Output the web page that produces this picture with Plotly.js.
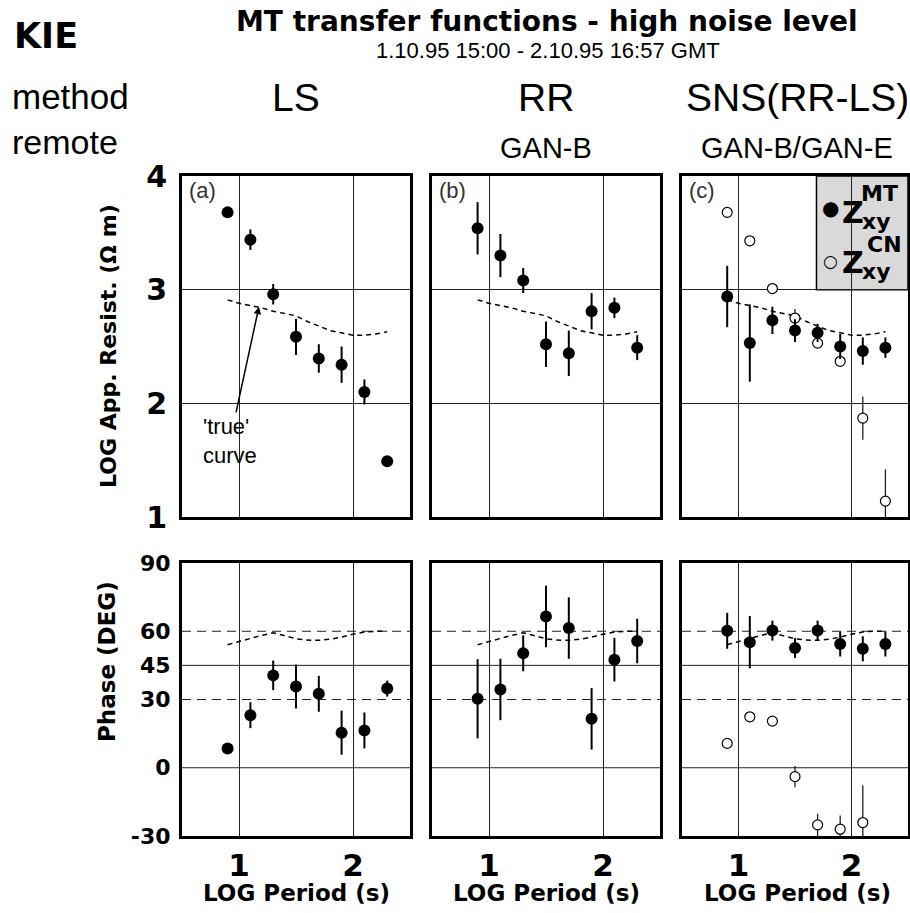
<!DOCTYPE html>
<html>
<head>
<meta charset="utf-8">
<script src="https://cdn.plot.ly/plotly-3.0.1.min.js"></script>
<style>html,body{margin:0;padding:0;background:#fff;}#chart{width:910px;height:913px;}</style>
</head>
<body>
<div id="chart"></div>
<script>
// ---- data ----
const logPeriod = [0.9, 1.1, 1.3, 1.5, 1.7, 1.9, 2.1, 2.3];

const rhoLS      = [3.68, 3.44, 2.96, 2.585, 2.395, 2.34, 2.10, 1.49];
const rhoLSerr   = [0, 0.09, 0.09, 0.16, 0.125, 0.16, 0.11, 0];
const rhoRR      = [3.54, 3.30, 3.08, 2.52, 2.44, 2.81, 2.84, 2.49];
const rhoRRerr   = [0.23, 0.19, 0.11, 0.20, 0.20, 0.16, 0.09, 0.11];
const rhoSnsMT   = [2.94, 2.53, 2.73, 2.64, 2.62, 2.50, 2.46, 2.49];
const rhoSnsMTerr= [0.27, 0.34, 0.12, 0.10, 0.08, 0.11, 0.12, 0.09];
const rhoSnsCN   = [3.68, 3.43, 3.01, 2.75, 2.53, 2.37, 1.87, 1.14];
const rhoSnsCNerr= [0, 0, 0, 0.08, 0.04, 0.04, 0.19, 0.28];

const phLS       = [8.5, 23.1, 40.6, 35.7, 32.5, 15.4, 16.4, 34.8];
const phLSerr    = [0, 5.7, 6.5, 9.7, 7.9, 9.7, 7.9, 3.5];
const phRR       = [30.3, 34.4, 50.3, 66.5, 61.4, 21.5, 47.5, 55.7];
const phRRerr    = [17.4, 13.5, 7.9, 13.5, 13.5, 13.5, 9.6, 9.8];
const phSnsMT    = [60.2, 55.2, 60.3, 52.6, 60.3, 54.4, 52.3, 54.4];
const phSnsMTerr = [7.9, 11.5, 4.4, 4.4, 4.4, 5.5, 5.5, 5.5];
const phSnsCN    = [10.7, 22.4, 20.5, -3.9, -25.1, -27.0, -24.1, null];
const phSnsCNerr = [0, 0, 0, 4.7, 4.9, 6.0, 16.4, 0];

const truePeriod = [0.9, 1.0, 1.1, 1.2, 1.3, 1.4, 1.5, 1.6, 1.7, 1.8, 1.9, 2.0, 2.1, 2.2, 2.3];
const trueRho    = [2.91, 2.88, 2.86, 2.84, 2.81, 2.79, 2.77, 2.72, 2.68, 2.64, 2.62, 2.60, 2.60, 2.61, 2.63];
const truePhase  = [54.1, 55.5, 56.8, 58.2, 59.3, 58.0, 56.7, 56.1, 56.0, 56.5, 57.4, 58.7, 59.7, 60.0, 60.0];

const rhoTicks   = [1, 2, 3, 4];
const phaseTicks = [-30, 0, 30, 45, 60, 90];
const periodTicks = [1, 2];
const methods = ['LS', 'RR', 'SNS(RR-LS)'];
const remotes = ['', 'GAN-B', 'GAN-B/GAN-E'];
const panelLabels = ['(a)', '(b)', '(c)'];

// ---- layout helpers ----
const W = 910, H = 913;
const FONT = 'Liberation Sans, Arial, sans-serif';
const BFONT = 'DejaVu Sans, Liberation Sans, sans-serif';
const colPx = [[182, 410], [432, 660], [682, 908]];
const topPx = [176, 517], botPx = [563, 836];
const px2x = p => p / W;
const py2y = p => 1 - p / H;

const traces = [];
function filled(x, y, e, xa, ya) {
  traces.push({x: x, y: y, xaxis: xa, yaxis: ya, type: 'scatter', mode: 'markers',
    marker: {color: 'black', size: 12},
    error_y: {type: 'data', array: e, visible: true, width: 0, thickness: 2, color: 'black'},
    showlegend: false, hoverinfo: 'skip'});
}
function open(x, y, e, xa, ya) {
  traces.push({x: x, y: y, xaxis: xa, yaxis: ya, type: 'scatter', mode: 'markers',
    marker: {color: 'white', size: 10, line: {color: 'black', width: 1.2}},
    error_y: {type: 'data', array: e, visible: true, width: 0, thickness: 1.3, color: '#222'},
    showlegend: false, hoverinfo: 'skip'});
}
function trueCurve(y, xa, ya) {
  traces.push({x: truePeriod, y: y, xaxis: xa, yaxis: ya, type: 'scatter', mode: 'lines',
    line: {color: 'black', width: 1.5, dash: '5px,4px'}, showlegend: false, hoverinfo: 'skip'});
}

// top row: resistivity (x,y / x2,y2 / x3,y3); bottom: phase (x4..x6)
trueCurve(trueRho, 'x', 'y');   filled(logPeriod, rhoLS, rhoLSerr, 'x', 'y');
trueCurve(trueRho, 'x2', 'y2'); filled(logPeriod, rhoRR, rhoRRerr, 'x2', 'y2');
trueCurve(trueRho, 'x3', 'y3'); open(logPeriod, rhoSnsCN, rhoSnsCNerr, 'x3', 'y3'); filled(logPeriod, rhoSnsMT, rhoSnsMTerr, 'x3', 'y3');
trueCurve(truePhase, 'x4', 'y4'); filled(logPeriod, phLS, phLSerr, 'x4', 'y4');
trueCurve(truePhase, 'x5', 'y5'); filled(logPeriod, phRR, phRRerr, 'x5', 'y5');
trueCurve(truePhase, 'x6', 'y6'); open(logPeriod, phSnsCN, phSnsCNerr, 'x6', 'y6'); filled(logPeriod, phSnsMT, phSnsMTerr, 'x6', 'y6');

const layout = {width: W, height: H, margin: {l: 0, r: 0, t: 0, b: 0},
  paper_bgcolor: 'white', plot_bgcolor: 'white', showlegend: false,
  font: {family: FONT, color: 'black'}, shapes: [], annotations: []};

function xaxisDef(col, bottom, anchor) {
  return {domain: [px2x(colPx[col][0]), px2x(colPx[col][1])], anchor: anchor, range: [0.5, 2.5],
    tickvals: periodTicks, ticktext: periodTicks.map(String), showticklabels: bottom,
    tickfont: {size: 31, weight: 'bold', family: BFONT}, ticks: '',
    showgrid: true, gridcolor: '#222', gridwidth: 1,
    showline: true, mirror: true, linecolor: 'black', linewidth: 3, zeroline: false, fixedrange: true};
}
function yaxisDef(col, isTop, anchor) {
  const dom = isTop ? topPx : botPx;
  return {domain: [py2y(dom[1]), py2y(dom[0])], anchor: anchor,
    range: isTop ? [1, 4] : [-30, 90], tickvals: isTop ? rhoTicks : phaseTicks,
    ticktext: (isTop ? rhoTicks : phaseTicks).map(String), showticklabels: col === 0,
    tickfont: {size: isTop ? 30 : 22, weight: 'bold', family: BFONT},
    ticks: col === 0 ? 'outside' : '', ticklen: isTop ? 6 : 4, tickcolor: 'rgba(0,0,0,0)',
    showgrid: isTop, gridcolor: '#222', gridwidth: 1,
    showline: true, mirror: true, linecolor: 'black', linewidth: 3, zeroline: false, fixedrange: true};
}
const axNames = ['', '2', '3', '4', '5', '6'];
for (let i = 0; i < 6; i++) {
  const col = i % 3, isTop = i < 3;
  layout['xaxis' + axNames[i]] = xaxisDef(col, !isTop, 'y' + axNames[i]);
  layout['yaxis' + axNames[i]] = yaxisDef(col, isTop, 'x' + axNames[i]);
}

// phase reference lines: solid at 0 and 45, dashed at 30 and 60
const phaseLines = [[0, 'solid'], [45, 'solid'], [30, '9px,6px'], [60, '9px,6px']];
for (let c = 0; c < 3; c++) {
  const n = axNames[3 + c];
  phaseLines.forEach(([v, d]) => layout.shapes.push({type: 'line', layer: 'below',
    xref: 'x' + n + ' domain', x0: 0, x1: 1, yref: 'y' + n, y0: v, y1: v,
    line: {color: '#222', width: 1, dash: d}}));
}
// legend box in panel (c)
layout.shapes.push({type: 'rect', layer: 'below', xref: 'x3', yref: 'y3', x0: 1.69, x1: 2.5, y0: 3, y1: 4,
  fillcolor: '#d9d9d9', line: {color: 'black', width: 1.5}});

const A = layout.annotations;
function txt(text, x, y, size, bold, opts) {
  A.push(Object.assign({text: text, x: px2x(x), y: py2y(y), xref: 'paper', yref: 'paper',
    showarrow: false, font: {size: size, family: bold ? BFONT : FONT, weight: bold ? 'bold' : 'normal', color: 'black'},
    xanchor: 'center', yanchor: 'middle'}, opts || {}));
}
txt('KIE', 12, 36, 35, true, {xanchor: 'left'});
txt('MT transfer functions - high noise level', 547, 21, 28, true);
txt('1.10.95 15:00 - 2.10.95 16:57 GMT', 548, 51, 22, false);
txt('method', 10, 96, 35, false, {xanchor: 'left'});
txt('remote', 10, 142, 34, false, {xanchor: 'left'});
const colCenters = [296, 546, 797];
methods.forEach((m, i) => txt(m, colCenters[i], 98, 39, false));
remotes.forEach((r, i) => { if (r) txt(r, colCenters[i], 148, 29, false); });
txt('LOG App. Resist. (\u03A9 m)', 109, 346, 22, true, {textangle: -90});
txt('Phase (DEG)', 107, 662, 23, true, {textangle: -90});
colCenters.forEach(cx => txt('LOG Period (s)', cx, 893, 23, true));

panelLabels.forEach((lab, i) => A.push({text: lab, xref: 'x' + axNames[i] + ' domain', yref: 'y' + axNames[i] + ' domain',
  x: 0.02, y: 1.0, xanchor: 'left', yanchor: 'top', showarrow: false,
  font: {size: 22, family: FONT, color: '#333'}}));

// 'true' curve annotation with arrow
A.push({text: "'true'<br>curve", xref: 'x', yref: 'y', x: 1.175, y: 2.85, axref: 'x', ayref: 'y',
  ax: 0.92, ay: 1.67, align: 'left', showarrow: true, arrowhead: 2, arrowsize: 1, arrowwidth: 1.5, arrowcolor: 'black',
  font: {size: 22, family: FONT, color: 'black'}});

// legend texts
function leg(text, x, y, size, bold, fam) {
  A.push({text: text, xref: 'x3', yref: 'y3', x: x, y: y, showarrow: false, xanchor: 'center', yanchor: 'middle',
    font: {size: size, family: fam || BFONT, weight: bold ? 'bold' : 'normal', color: 'black'}});
}
leg('\u25CF', 1.81, 3.72, 20, false, 'DejaVu Sans');
leg('\u25CB', 1.81, 3.25, 17, false, 'DejaVu Sans');
leg('Z', 2.01, 3.68, 30, true);
leg('MT', 2.25, 3.85, 22, true);
leg('xy', 2.22, 3.60, 22, true);
leg('Z', 2.01, 3.24, 30, true);
leg('CN', 2.29, 3.40, 22, true);
leg('xy', 2.22, 3.16, 22, true);

Plotly.newPlot('chart', traces, layout, {displayModeBar: false, staticPlot: true});
</script>
</body>
</html>
